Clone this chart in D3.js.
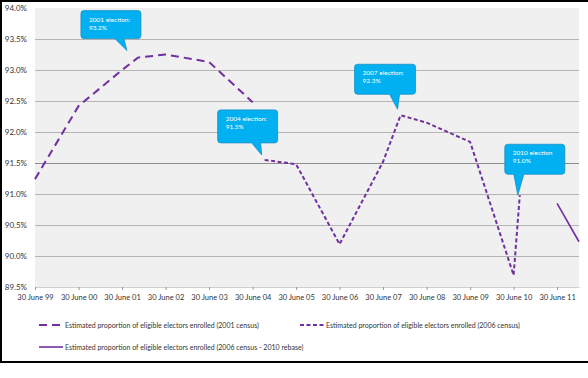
<!DOCTYPE html>
<html><head><meta charset="utf-8">
<script src="https://cdn.jsdelivr.net/npm/d3@7"></script>
<style>
html,body{margin:0;padding:0;background:#fff;}
svg{display:block;font-family:Lato, "Open Sans", sans-serif;}
</style></head>
<body>
<svg id="chart" width="588" height="378"></svg>
<script>
// ---- data ----
const s2001Dates  = ["1999-06-30","2000-06-30","2001-06-30","2001-11-10","2002-06-30","2003-06-30","2004-06-30"];
const s2001Values = [91.24, 92.42, 93.00, 93.20, 93.25, 93.13, 92.48];

const s2006Dates  = ["2004-10-09","2005-06-30","2006-06-30","2007-06-30","2007-11-24","2008-06-30","2009-06-30","2010-06-30","2010-08-21"];
const s2006Values = [91.55, 91.48, 90.19, 91.52, 92.27, 92.15, 91.84, 89.69, 90.98];

const sRebaseDates  = ["2011-06-30","2011-12-31"];
const sRebaseValues = [90.85, 90.23];

const yTicks = [89.5, 90.0, 90.5, 91.0, 91.5, 92.0, 92.5, 93.0, 93.5, 94.0];
const xTickDates  = ["1999-06-30","2000-06-30","2001-06-30","2002-06-30","2003-06-30","2004-06-30","2005-06-30","2006-06-30","2007-06-30","2008-06-30","2009-06-30","2010-06-30","2011-06-30"];
const xTickLabels = ["30 June 99","30 June 00","30 June 01","30 June 02","30 June 03","30 June 04","30 June 05","30 June 06","30 June 07","30 June 08","30 June 09","30 June 10","30 June 11"];

const calloutDates  = ["2001-11-10","2004-10-09","2007-11-24","2010-08-21"];
const calloutValues = [93.2, 91.55, 92.27, 90.98];
const calloutLine1  = ["2001 election:","2004 election:","2007 election:","2010 election"];
const calloutLine2  = ["93.2%","91.5%","92.3%","91.0%"];

const legendLabels = [
  "Estimated proportion of eligible electors enrolled (2001 census)",
  "Estimated proportion of eligible electors enrolled (2006 census)",
  "Estimated proportion of eligible electors enrolled (2006 census - 2010 rebase)"
];

// ---- layout ----
const parse = d3.timeParse("%Y-%m-%d");
const svg = d3.select("#chart");
const plot = {left:35, right:579, top:8, bottom:287};

const x = d3.scaleTime()
  .domain([parse("1999-06-30"), parse("2011-12-31")])
  .range([plot.left, plot.right]);
const y = d3.scaleLinear().domain([89.5, 94.0]).range([plot.bottom, plot.top]);

// frame
svg.append("line").attr("x1",0).attr("x2",588).attr("y1",1).attr("y2",1).attr("stroke","#000").attr("stroke-width",2);
svg.append("line").attr("x1",1).attr("x2",1).attr("y1",0).attr("y2",362).attr("stroke","#000").attr("stroke-width",2);
svg.append("line").attr("x1",0).attr("x2",588).attr("y1",362).attr("y2",362).attr("stroke","#000").attr("stroke-width",2);

// plot background
svg.append("rect").attr("x",plot.left).attr("y",plot.top)
  .attr("width",plot.right-plot.left).attr("height",plot.bottom-plot.top)
  .attr("fill","#f0f0f0");

// gridlines
svg.append("g").selectAll("line").data(yTicks.filter(v=>v>89.5 && v<94.0)).join("line")
  .attr("x1",plot.left).attr("x2",plot.right)
  .attr("y1",d=>Math.round(y(d))+0.5).attr("y2",d=>Math.round(y(d))+0.5)
  .attr("stroke",d=>d===91.5?"#8c8c8c":"#b4b4b4").attr("stroke-width",1);

// y axis labels
svg.append("g").selectAll("text").data(yTicks).join("text")
  .attr("x",27).attr("y",d=>y(d)+3)
  .attr("text-anchor","end").attr("font-size","8px").attr("fill","#333")
  .text(d=>d3.format(".1f")(d)+"%");

// x axis
const xAxis = d3.axisBottom(x)
  .tickValues(xTickDates.map(parse))
  .tickFormat((d,i)=>xTickLabels[i])
  .tickSize(3).tickPadding(5).tickSizeOuter(0);
const gx = svg.append("g").attr("transform",`translate(0,${plot.bottom})`).call(xAxis);
gx.select(".domain").attr("stroke","#d0d0d0");
gx.selectAll(".tick line").attr("stroke","#999");
gx.selectAll("text").attr("font-size","7.5px").attr("fill","#333").attr("font-family","Lato, sans-serif");

// lines
const lineGen = d3.line().x(d=>x(d[0])).y(d=>y(d[1]));
const purple = "#7030a0";
function series(dates, vals){ return dates.map((d,i)=>[parse(d), vals[i]]); }

svg.append("path").datum(series(s2001Dates,s2001Values))
  .attr("d",lineGen).attr("fill","none").attr("stroke",purple)
  .attr("stroke-width",2).attr("stroke-dasharray","8,5");
svg.append("path").datum(series(s2006Dates,s2006Values))
  .attr("d",lineGen).attr("fill","none").attr("stroke",purple)
  .attr("stroke-width",2).attr("stroke-dasharray","4,2.5");
svg.append("path").datum(series(sRebaseDates,sRebaseValues))
  .attr("d",lineGen).attr("fill","none").attr("stroke",purple)
  .attr("stroke-width",1.6);

// callouts: box offsets relative to tip (layout)
const calloutBox = [
  {tipDx:-11, tipDy:-7, bx:-46, by:-40, w:60, h:28, baseL:-12, baseR:-3},
  {tipDx:-3,  tipDy:-5, bx:-44, by:-45, w:60, h:33, baseL:-10, baseR:-1},
  {tipDx:-3,  tipDy:-6, bx:-43, by:-45, w:61, h:30, baseL:-8, baseR:2},
  {tipDx:-2,  tipDy:0,  bx:-13, by:-51, w:60, h:30, baseL:-4, baseR:6}
];
const cg = svg.append("g");
calloutDates.forEach((dt,i)=>{
  const c = calloutBox[i];
  const tx = x(parse(dt)) + c.tipDx, ty = y(calloutValues[i]) + c.tipDy;
  const L = tx + c.bx, T = ty + c.by, R = L + c.w, B = T + c.h, r = 3;
  const p = d3.path();
  p.moveTo(L+r, T);
  p.lineTo(R-r, T); p.quadraticCurveTo(R, T, R, T+r);
  p.lineTo(R, B-r); p.quadraticCurveTo(R, B, R-r, B);
  p.lineTo(tx + c.baseR, B);
  p.lineTo(tx, ty);
  p.lineTo(tx + c.baseL, B);
  p.lineTo(L+r, B); p.quadraticCurveTo(L, B, L, B-r);
  p.lineTo(L, T+r); p.quadraticCurveTo(L, T, L+r, T);
  p.closePath();
  cg.append("path").attr("d",p.toString()).attr("fill","#00b0f0").attr("stroke","#1a8fc4").attr("stroke-width",0.8);
  cg.append("text").attr("x",L+8).attr("y",T+11).attr("font-size","6.5px").attr("fill","#fff").text(calloutLine1[i]);
  cg.append("text").attr("x",L+8).attr("y",T+19).attr("font-size","6.5px").attr("fill","#fff").text(calloutLine2[i]);
});

// legend
const legendPos = [{x:39,y:325},{x:300,y:325},{x:39,y:347}];
const legendDash = ["8,5","4,2.5",null];
legendLabels.forEach((lab,i)=>{
  const p = legendPos[i];
  const ln = svg.append("line").attr("x1",p.x).attr("x2",p.x+24).attr("y1",p.y).attr("y2",p.y)
    .attr("stroke",purple).attr("stroke-width",i===2?1.6:2);
  if(legendDash[i]) ln.attr("stroke-dasharray",legendDash[i]);
  svg.append("text").attr("x",p.x+26).attr("y",p.y+2.5).attr("font-size","7px").attr("fill","#333").text(lab);
});
</script>
</body></html>
